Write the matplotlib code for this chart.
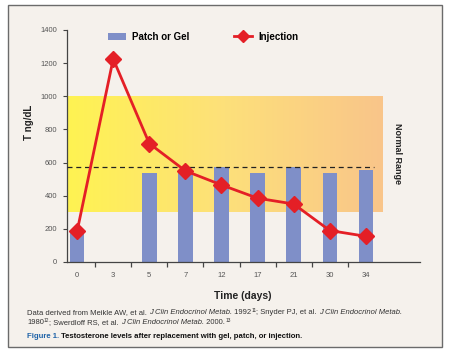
import numpy as np
import matplotlib
matplotlib.use("Agg")
import matplotlib.pyplot as plt
from matplotlib.colors import LinearSegmentedColormap
from matplotlib.patches import Rectangle
from matplotlib.lines import Line2D
from matplotlib.patches import Patch

plt.rcParams['font.family'] = ['Liberation Sans', 'DejaVu Sans']

# data
days = ['0', '3', '5', '7', '12', '17', '21', '30', '34']
patch_gel = [185, None, 540, 550, 575, 540, 575, 540, 555]
injection = [185, 1225, 715, 550, 465, 385, 350, 190, 155]
normal_low, normal_high = 300, 1000
mean_level = 575

fig = plt.figure(figsize=(4.5, 3.53), dpi=100)
fig.patch.set_facecolor('white')

# outer frame
fig.patches.append(Rectangle((8 / 450, 6 / 353), 434 / 450, 342 / 353,
                             transform=fig.transFigure, facecolor='#f5f1ec',
                             edgecolor='#6b6b6b', lw=1.0, zorder=-10))

ax = fig.add_axes([67 / 450, 91 / 353, 353 / 450, 232 / 353])
ax.set_facecolor('none')
ax.set_zorder(1)

x = np.arange(len(days))
x0, x1 = -0.28, 9.5
ax.set_xlim(x0, x1)
ax.set_ylim(0, 1400)

# normal range gradient band
cmap = LinearSegmentedColormap.from_list('band', ['#fff352', '#fde07a', '#f9c58a'])
grad = np.linspace(0, 1, 256).reshape(1, -1)
ax.imshow(grad, cmap=cmap, aspect='auto', extent=(x0, 8.47, normal_low, normal_high),
          zorder=1)

# bars
bx = [xi for xi, v in zip(x, patch_gel) if v is not None]
bv = [v for v in patch_gel if v is not None]
ax.bar(bx, bv, width=0.4, color='#7f8fc8', zorder=2)

# dashed mean line
ax.plot([x0, 8.22], [mean_level, mean_level], color='#222222', lw=0.9,
        dashes=(4, 3), zorder=3)

# injection line
ax.plot(x, injection, color='#e41f26', lw=2.0, marker='D', markersize=8,
        markerfacecolor='#e41f26', markeredgecolor='#e41f26', zorder=4)

# axes styling
for s in ['top', 'right']:
    ax.spines[s].set_visible(False)
for s in ['left', 'bottom']:
    ax.spines[s].set_color('#444444')
    ax.spines[s].set_linewidth(0.9)
ax.set_yticks(range(0, 1401, 200))
ax.tick_params(axis='y', length=3, width=0.8, color='#444444', labelsize=5.5,
               labelcolor='#555555', pad=4)
ax.set_xticks(x)
ax.set_xticklabels(days)
ax.tick_params(axis='x', which='major', length=0, labelsize=5.5,
               labelcolor='#555555', pad=7)
ax.set_xticks(x[:-1] + 0.5, minor=True)
ax.tick_params(axis='x', which='minor', length=3.5, width=0.9, color='#444444')

# legend
handles = [Patch(facecolor='#7f8fc8', edgecolor='none'),
           Line2D([], [], color='#e41f26', lw=2.0, marker='D', markersize=6.5)]
leg = ax.legend(handles, ['Patch or Gel', 'Injection'], ncol=2, frameon=False,
                loc='upper left', bbox_to_anchor=(0.09, 1.03),
                prop={'weight': 'bold', 'size': 7},
                columnspacing=4.6, handlelength=1.9, handletextpad=0.6)

fig.text(29 / 450, 1 - 122 / 353, 'T ng/dL', rotation=90, ha='center', va='center',
         fontsize=7, fontweight='bold', color='#222222')
ax.text(8.89, 655, 'Normal Range', rotation=270, ha='center', va='center',
        fontsize=6.5, fontweight='bold', color='#222222')
fig.text(243 / 450, 1 - 296 / 353, 'Time (days)', ha='center', va='center',
         fontsize=7.5, fontweight='bold', color='#222222')

# caption with mixed styles
renderer = fig.canvas.get_renderer()


def runs(xpix, ypix, parts):
    xp = xpix
    for txt, style in parts:
        kw = dict(fontsize=5.5, color='#333333')
        dy = 0
        if style == 'i':
            kw['style'] = 'italic'
        elif style == 'sup':
            kw['fontsize'] = 3.5
            dy = 2.5
        elif style == 'b':
            kw['fontweight'] = 'bold'
            kw['color'] = '#111111'
            kw['fontsize'] = 5.6
        elif style == 'fig':
            kw['fontweight'] = 'bold'
            kw['color'] = '#1f63a8'
            kw['fontsize'] = 5.6
        t = fig.text(xp / 450, 1 - (ypix - dy) / 353, txt, ha='left', va='center', **kw)
        bb = t.get_window_extent(renderer)
        xp += bb.width


runs(27, 313, [('Data derived from Meikle AW, et al. ', 'n'),
               ('J Clin Endocrinol Metab.', 'i'), (' 1992', 'n'), ('11', 'sup'),
               ('; Snyder PJ, et al. ', 'n'), ('J Clin Endocrinol Metab.', 'i')])
runs(27, 323, [('1980', 'n'), ('12', 'sup'), ('; Swerdloff RS, et al. ', 'n'),
               ('J Clin Endocrinol Metab.', 'i'), (' 2000.', 'n'), ('13', 'sup')])
runs(27, 336, [('Figure 1.', 'fig'),
               (' Testosterone levels after replacement with gel, patch, or injection.', 'b')])

fig.savefig('out.png', dpi=100)
